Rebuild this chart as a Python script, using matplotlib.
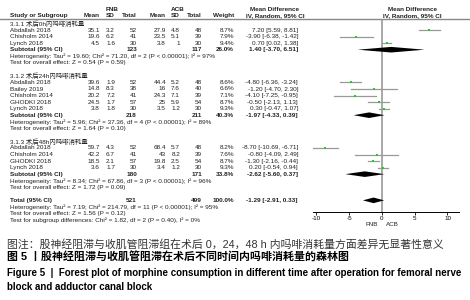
import matplotlib.pyplot as plt

plt.rcParams['font.family'] = ['Liberation Sans', 'Noto Sans CJK SC']

# 数据
groups = ['3.1.1 术后0h内吗啡消耗量', '3.1.2 术后24h内吗啡消耗量', '3.1.3 术后48h内吗啡消耗量']
studies = [['Abdallah 2018', 'Chisholm 2014', 'Lynch 2018'],
           ['Abdallah 2018', 'Bailey 2019', 'Chisholm 2014', 'GHODKI 2018', 'Lynch 2018'],
           ['Abdallah 2018', 'Chisholm 2014', 'GHODKI 2018', 'Lynch 2018']]
fnb_mean = [[35.1, 19.6, 4.5], [39.6, 14.8, 20.2, 24.5, 3.8], [59.7, 42.2, 18.5, 3.6]]
fnb_sd = [[3.2, 6.2, 1.6], [1.9, 8.3, 7.2, 1.7, 1.8], [4.3, 6.7, 2.1, 1.7]]
fnb_n = [[52, 41, 30], [52, 38, 41, 57, 30], [52, 41, 57, 30]]
acb_mean = [[27.9, 23.5, 3.8], [44.4, 16, 24.3, 25, 3.5], [68.4, 43, 19.8, 3.4]]
acb_sd = [[4.8, 5.1, 1], [5.2, 7.6, 7.1, 5.9, 1.2], [5.7, 8.2, 2.5, 1.2]]
acb_n = [[48, 39, 30], [48, 40, 39, 54, 30], [48, 39, 54, 30]]
weight = [[8.7, 7.9, 9.4], [8.6, 6.6, 7.1, 8.7, 9.3], [8.2, 7.6, 8.7, 9.3]]
md = [[7.20, -3.90, 0.70], [-4.80, -1.20, -4.10, -0.50, 0.30], [-8.70, -0.80, -1.30, 0.20]]
ci_lo = [[5.59, -6.38, 0.02], [-6.36, -4.70, -7.25, -2.13, -0.47], [-10.69, -4.09, -2.16, -0.54]]
ci_hi = [[8.81, -1.42, 1.38], [-3.24, 2.30, -0.95, 1.13, 1.07], [-6.71, 2.49, -0.44, 0.94]]
sub_fnb_n = [123, 218, 180]
sub_acb_n = [117, 211, 171]
sub_weight = [26.0, 40.3, 33.8]
sub_md = [1.40, -1.97, -2.62]
sub_lo = [-3.70, -4.33, -5.60]
sub_hi = [6.51, 0.39, 0.37]
het = ['Heterogeneity: Tau² = 19.60; Chi² = 71.20, df = 2 (P < 0.00001); I² = 97%',
       'Heterogeneity: Tau² = 5.96; Chi² = 37.36, df = 4 (P < 0.00001); I² = 89%',
       'Heterogeneity: Tau² = 8.34; Chi² = 67.86, df = 3 (P < 0.00001); I² = 96%']
overall = ['Test for overall effect: Z = 0.54 (P = 0.59)',
           'Test for overall effect: Z = 1.64 (P = 0.10)',
           'Test for overall effect: Z = 1.72 (P = 0.09)']
total = {'fnb': 521, 'acb': 499, 'w': 100.0, 'md': -1.29, 'lo': -2.91, 'hi': 0.33}
total_text = ['Heterogeneity: Tau² = 7.19; Chi² = 214.79, df = 11 (P < 0.00001); I² = 95%',
              'Test for overall effect: Z = 1.56 (P = 0.12)',
              'Test for subgroup differences: Chi² = 1.82, df = 2 (P = 0.40), I² = 0%']
xticks = [-10, -5, 0, 5, 10]

fig = plt.figure(figsize=(4.7, 3.0), dpi=100)
ax = fig.add_axes([0, 0, 1, 1])
ax.set_xlim(0, 470)
ax.set_ylim(300, 0)
ax.axis('off')

# 森林图坐标轴（y 用与表格相同的像素行坐标）
axf = fig.add_axes([313 / 470, 1 - 212 / 300, (459 - 313) / 470, (212 - 19) / 300])
axf.set_xlim(-10.53, 11.76)
axf.patch.set_alpha(0)
for s in ['top', 'left', 'right']:
    axf.spines[s].set_visible(False)
axf.spines['bottom'].set_linewidth(0.7)
axf.set_yticks([])
axf.set_xticks(xticks)
axf.set_xticklabels([str(t) for t in xticks], fontsize=4.5)
axf.tick_params(axis='x', length=2, width=0.6, pad=1)
axf.axvline(0, color='#999999', lw=1.2, zorder=0)

fs = 4.6
col = '#222222'
xs = dict(name=10, fm=100, fsd=115, fn=137, am=166, asd=180, an=202, w=234, ci=298)


def cell(x, y, s, ha='right', bold=False):
    ax.text(x, y, s, fontsize=fs, ha=ha, va='center', color=col,
            fontweight='bold' if bold else 'normal')


def diamond(y, m, lo, hi, h=2.8):
    axf.fill([lo, m, hi, m], [y, y - h, y, y + h], color='black', lw=0)


# 表头
cell(112, 9.3, 'FNB', 'center', True)
cell(178, 9.3, 'ACB', 'center', True)
cell(275, 9.3, 'Mean Difference', 'center', True)
cell(412, 9.3, 'Mean Difference', 'center', True)
cell(xs['name'], 15.5, 'Study or Subgroup', 'left', True)
for k, s in [('fm', 'Mean'), ('fsd', 'SD'), ('fn', 'Total'), ('am', 'Mean'), ('asd', 'SD'), ('an', 'Total'), ('w', 'Weight')]:
    cell(xs[k], 15.5, s, 'right', True)
cell(275, 15.5, 'IV, Random, 95% CI', 'center', True)
cell(412, 15.5, 'IV, Random, 95% CI', 'center', True)
ax.axhline(19, color='#888888', lw=1)

step = 6.55
row = 0
y0 = 23.5
for g in range(len(groups)):
    cell(xs['name'], y0 + row * step, groups[g], 'left')
    row += 1
    for i in range(len(studies[g])):
        y = y0 + row * step
        cell(xs['name'], y, studies[g][i], 'left')
        cell(xs['fm'], y, f"{fnb_mean[g][i]:g}")
        cell(xs['fsd'], y, f"{fnb_sd[g][i]:g}")
        cell(xs['fn'], y, str(fnb_n[g][i]))
        cell(xs['am'], y, f"{acb_mean[g][i]:g}")
        cell(xs['asd'], y, f"{acb_sd[g][i]:g}")
        cell(xs['an'], y, str(acb_n[g][i]))
        cell(xs['w'], y, f"{weight[g][i]:.1f}%")
        cell(xs['ci'], y, f"{md[g][i]:.2f} [{ci_lo[g][i]:.2f}, {ci_hi[g][i]:.2f}]")
        axf.plot([ci_lo[g][i], ci_hi[g][i]], [y, y], color='#999999', lw=0.9)
        axf.plot(md[g][i], y, 's', color='#22cc22', ms=0.9 + weight[g][i] * 0.13, mew=0)
        row += 1
    y = y0 + row * step
    cell(xs['name'], y, 'Subtotal (95% CI)', 'left', True)
    cell(xs['fn'], y, str(sub_fnb_n[g]), bold=True)
    cell(xs['an'], y, str(sub_acb_n[g]), bold=True)
    cell(xs['w'], y, f"{sub_weight[g]:.1f}%", bold=True)
    cell(xs['ci'], y, f"{sub_md[g]:.2f} [{sub_lo[g]:.2f}, {sub_hi[g]:.2f}]", bold=True)
    diamond(y, sub_md[g], sub_lo[g], sub_hi[g])
    row += 1
    cell(xs['name'], y0 + row * step, het[g], 'left')
    row += 1
    cell(xs['name'], y0 + row * step, overall[g], 'left')
    row += 2

y = y0 + row * step
cell(xs['name'], y, 'Total (95% CI)', 'left', True)
cell(xs['fn'], y, str(total['fnb']), bold=True)
cell(xs['an'], y, str(total['acb']), bold=True)
cell(xs['w'], y, f"{total['w']:.1f}%", bold=True)
cell(xs['ci'], y, f"{total['md']:.2f} [{total['lo']:.2f}, {total['hi']:.2f}]", bold=True)
diamond(y, total['md'], total['lo'], total['hi'])
for t in total_text:
    row += 1
    cell(xs['name'], y0 + row * step, t, 'left')

axf.text(-0.6, 225, 'FNB', fontsize=4.5, ha='right', va='center', color=col)
axf.text(0.6, 225, 'ACB', fontsize=4.5, ha='left', va='center', color=col)
axf.set_ylim(212, 19)

# 图注
ax.text(7, 244, '图注：股神经阻滞与收肌管阻滞组在术后 0，24，48 h 内吗啡消耗量方面差异无显著性意义',
        fontsize=7.8, color='#333333', va='center', ha='left')
ax.text(7, 257, '图 5 丨股神经阻滞与收肌管阻滞在术后不同时间内吗啡消耗量的森林图',
        fontsize=7.9, color='black', va='center', ha='left', fontweight='bold')
ax.text(7, 273, 'Figure 5  |  Forest plot of morphine consumption in different time after operation for femoral nerve',
        fontsize=7.0, color='black', va='center', ha='left', fontweight='bold')
ax.text(7, 287.5, 'block and adductor canal block',
        fontsize=7.0, color='black', va='center', ha='left', fontweight='bold')

fig.savefig('out.png', dpi=100)
